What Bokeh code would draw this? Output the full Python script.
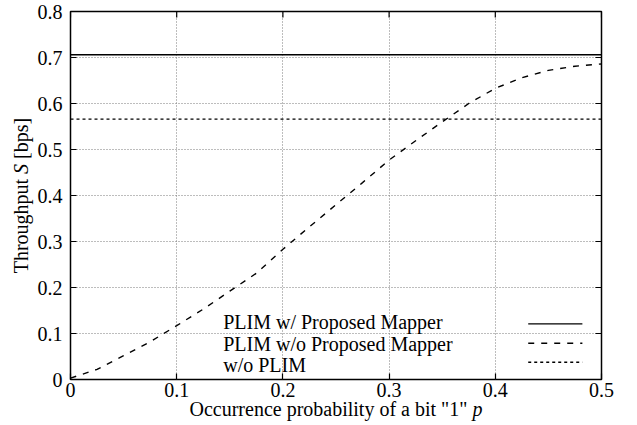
import math

from bokeh.plotting import figure
from bokeh.models import Range1d, FixedTicker, Label
from bokeh.embed import file_html
from bokeh.resources import INLINE

# Occurrence probability of a bit "1"
p_values = [0.0, 0.025, 0.05, 0.075, 0.1, 0.125, 0.15, 0.175, 0.2, 0.225, 0.25,
            0.275, 0.3, 0.325, 0.35, 0.375, 0.4, 0.425, 0.45, 0.475, 0.5]

# Throughput S [bps]
s_plim_without_mapper = [0.003, 0.022, 0.052, 0.082, 0.117, 0.153, 0.192, 0.231,
                         0.283, 0.332, 0.380, 0.428, 0.477, 0.519, 0.560, 0.600,
                         0.633, 0.656, 0.672, 0.681, 0.686]
s_plim_with_mapper = 0.706
s_without_plim = 0.566

x_ticks = [0.0, 0.1, 0.2, 0.3, 0.4, 0.5]
x_tick_labels = ["0", "0.1", "0.2", "0.3", "0.4", "0.5"]
y_ticks = [0.0, 0.1, 0.2, 0.3, 0.4, 0.5, 0.6, 0.7, 0.8]
y_tick_labels = ["0", "0.1", "0.2", "0.3", "0.4", "0.5", "0.6", "0.7", "0.8"]

legend_labels = ["PLIM w/ Proposed Mapper", "PLIM w/o Proposed Mapper", "w/o PLIM"]

FONT = "Liberation Serif"
FS = "20px"
SOLID, DASHED, DOTTED = "solid", "6 7", "3 3"

X0, X1 = 0.0, 0.5
Y0, Y1 = 0.0, 0.8
FRAME_W, FRAME_H = 531, 368   # plot area in pixels
TICK_PX = 6

p = figure(width=637, height=425,
           x_range=Range1d(X0, X1), y_range=Range1d(Y0, Y1),
           output_backend="svg", toolbar_location=None,
           min_border_left=70, min_border_right=36,
           min_border_top=11, min_border_bottom=46)

p.outline_line_color = "black"
p.outline_line_width = 1.5
p.background_fill_color = "white"
p.border_fill_color = "white"

# dotted grid
p.xgrid.ticker = FixedTicker(ticks=x_ticks)
p.ygrid.ticker = FixedTicker(ticks=y_ticks)
p.grid.grid_line_color = "#7a7a7a"
p.grid.grid_line_dash = "1 2"
p.grid.grid_line_width = 1

for ax, ticks, labels in ((p.xaxis[0], x_ticks, x_tick_labels),
                          (p.yaxis[0], y_ticks, y_tick_labels)):
    ax.ticker = FixedTicker(ticks=ticks)
    ax.major_label_overrides = {t: l for t, l in zip(ticks, labels)}
    ax.axis_line_color = None
    ax.major_tick_in = TICK_PX
    ax.major_tick_out = 0
    ax.major_tick_line_color = "black"
    ax.major_tick_line_width = 1.2
    ax.minor_tick_in = 0
    ax.minor_tick_out = 0
    ax.minor_tick_line_color = None
    ax.major_label_text_font = FONT
    ax.major_label_text_font_size = FS
    ax.major_label_text_color = "black"

p.xaxis[0].major_label_standoff = 3
p.yaxis[0].major_label_standoff = 8

# inward ticks mirrored on the top and right edges
dy = (Y1 - Y0) * TICK_PX / FRAME_H
dx = (X1 - X0) * TICK_PX / FRAME_W
p.segment(x0=x_ticks, y0=[Y1] * len(x_ticks), x1=x_ticks, y1=[Y1 - dy] * len(x_ticks),
          line_color="black", line_width=1.2)
p.segment(x0=[X1] * len(y_ticks), y0=y_ticks, x1=[X1 - dx] * len(y_ticks), y1=y_ticks,
          line_color="black", line_width=1.2)

# curves
x_span = [p_values[0], p_values[-1]]
p.line(x_span, [s_plim_with_mapper] * 2, line_color="black", line_width=1.4)
p.line(p_values, s_plim_without_mapper, line_color="black", line_width=1.4,
       line_dash=DASHED)
p.line(x_span, [s_without_plim] * 2, line_color="black", line_width=1.4,
       line_dash=DOTTED)

# key: text on the left, line sample on the right
key_text_x = 0.1438
key_text_y = [0.1243, 0.0761, 0.0326]
key_line_x = [0.431, 0.482]
key_line_y = [0.121, 0.0789, 0.0376]
for lbl, dash, ty, ly in zip(legend_labels, [SOLID, DASHED, DOTTED], key_text_y, key_line_y):
    p.add_layout(Label(x=key_text_x, y=ty, text=lbl, text_font=FONT,
                       text_font_size=FS, text_color="black",
                       text_align="left", text_baseline="middle"))
    p.line(key_line_x, [ly, ly], line_color="black", line_width=1.4, line_dash=dash)


# axis titles, built from pieces so that the symbols can be set in italics;
# each piece is anchored at the plot's origin and shifted in pixels
def title_piece(text, dx_px, dy_px, side, italic=False, vertical=False):
    lab = Label(x=X0, y=Y0, x_offset=dx_px, y_offset=dy_px, text=text,
                text_font=FONT, text_font_size=FS, text_color="black",
                text_font_style="italic" if italic else "normal",
                text_align="left", text_baseline="middle",
                angle=math.pi / 2 if vertical else 0)
    p.add_layout(lab, side)


x_title_start, x_title_mid = 119, -29.5
title_piece('Occurrence probability of a bit "1"', x_title_start, x_title_mid, "below")
title_piece("p", x_title_start + 282.9, x_title_mid, "right", italic=True)

y_title_mid, y_title_start = -49.5, 106.2
title_piece("Throughput", y_title_mid, y_title_start, "left", vertical=True)
title_piece("S", y_title_mid, y_title_start + 99.4, "above", italic=True, vertical=True)
title_piece("[bps]", y_title_mid, y_title_start + 114.4, "right", vertical=True)

open("out.html", "w").write(file_html(p, INLINE))
